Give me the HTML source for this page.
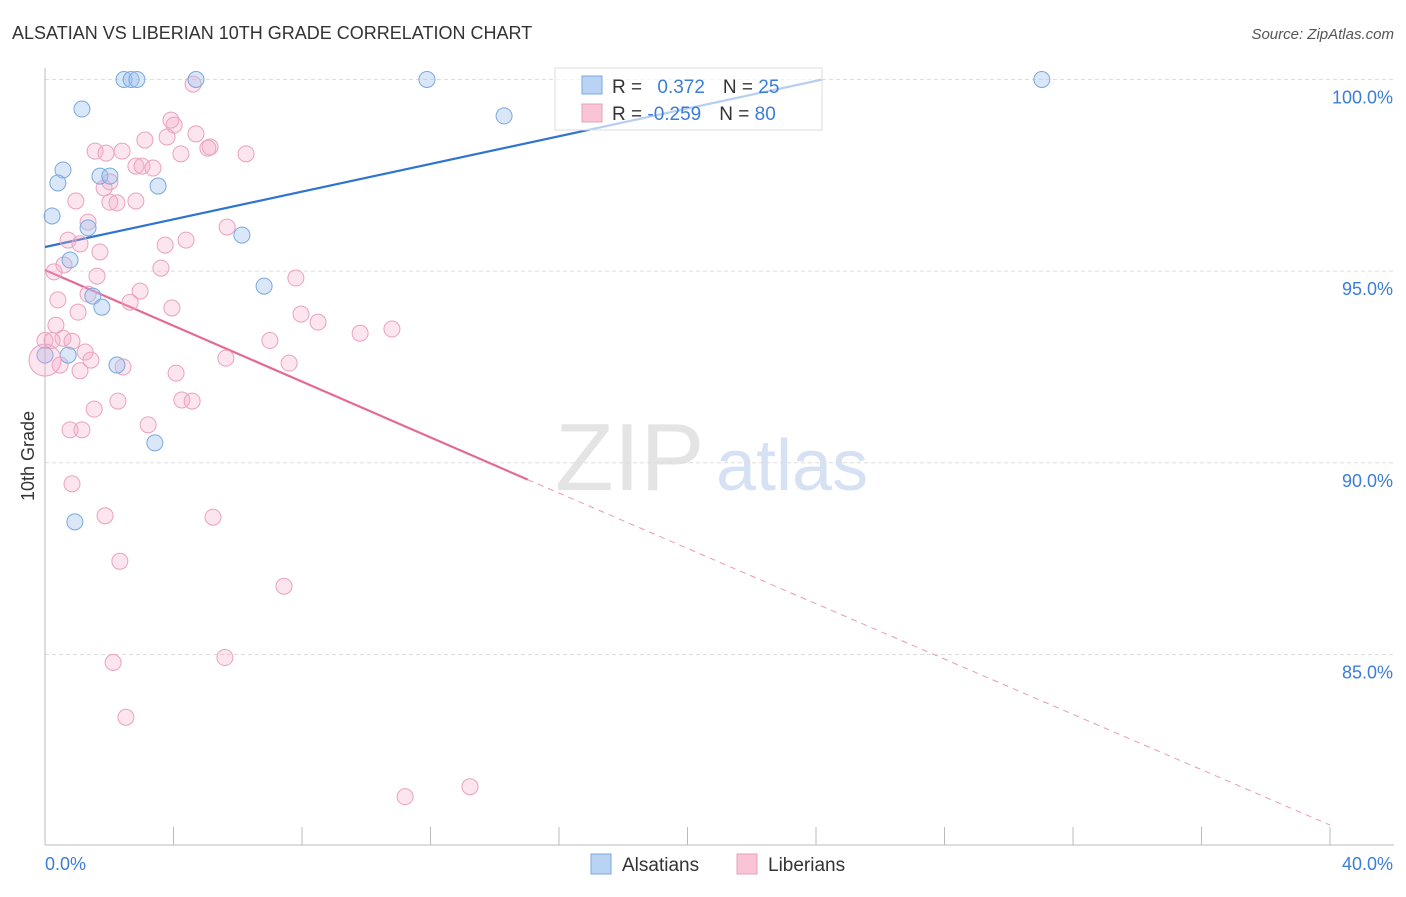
<!DOCTYPE html>
<html><head><meta charset="utf-8"><style>
body{margin:0;background:#fff;font-family:"Liberation Sans",sans-serif;}
svg text{font-family:"Liberation Sans",sans-serif;}
</style></head><body>
<svg id="chart" width="1406" height="892">
<text x="12" y="39" font-size="18" fill="#333">ALSATIAN VS LIBERIAN 10TH GRADE CORRELATION CHART</text>
<text x="1394" y="39" font-size="15" fill="#555" font-style="italic" text-anchor="end">Source: ZipAtlas.com</text>
<text x="34" y="456" font-size="18" fill="#333" transform="rotate(-90 34 456)" text-anchor="middle">10th Grade</text>
<text x="555" y="490" font-size="96" fill="#e4e4e4" font-family="Liberation Serif">ZIP</text>
<text x="716" y="490" font-size="72" fill="#d6e2f3">atlas</text>
<g id="grid"></g><g id="axes"></g><g id="trends"></g><g id="pts"></g>
<g>
<rect x="555" y="68" width="267" height="62" fill="#fff" fill-opacity="0.65" stroke="#ddd"/>
<rect x="582" y="76" width="20" height="18" fill="#b9d3f5" stroke="#7aa8e0"/>
<rect x="582" y="104" width="20" height="18" fill="#f9c5d6" stroke="#e8a0bb"/>
<text x="612" y="93" font-size="19" fill="#333">R = <tspan fill="#3b7dd8" dx="10">0.372</tspan><tspan dx="18">N = </tspan><tspan fill="#3b7dd8">25</tspan></text>
<text x="612" y="120" font-size="19" fill="#333">R = <tspan fill="#3b7dd8">-0.259</tspan><tspan dx="18">N = </tspan><tspan fill="#3b7dd8">80</tspan></text>
</g>
<g>
<rect x="591" y="854" width="20" height="20" fill="#b9d3f5" stroke="#7aa8e0"/>
<text x="622" y="871" font-size="19" fill="#333">Alsatians</text>
<rect x="737" y="854" width="20" height="20" fill="#f9c5d6" stroke="#e8a0bb"/>
<text x="768" y="871" font-size="19" fill="#333">Liberians</text>
</g>
<text x="45" y="870" font-size="18" fill="#3b7dd8">0.0%</text>
<text x="1393" y="870" font-size="18" fill="#3b7dd8" text-anchor="end">40.0%</text>
</svg>
<script>
const yTicks=[100,95,90,85];
const yTickLabels=["100.0%","95.0%","90.0%","85.0%"];
const blueX=[2.46,2.68,2.86,4.70,11.89,31.03,1.15,14.29,0.56,0.40,1.71,2.02,3.52,0.22,1.34,6.13,0.78,6.82,1.49,1.77,0.72,2.24,3.42,0.93,0];
const blueY=[100,100,100,100,100,100,99.23,99.05,97.64,97.30,97.48,97.48,97.22,96.44,96.13,95.94,95.29,94.61,94.35,94.06,92.81,92.55,90.52,88.46,92.81];
const pinkX=[4.61,3.92,4.02,4.70,3.11,3.80,5.14,5.07,1.56,2.40,1.90,4.23,6.26,2.83,3.02,3.36,2.02,1.84,0.96,2.02,2.24,2.83,1.34,5.67,0.72,4.39,3.74,1.09,1.71,0.59,3.61,0.28,1.62,7.81,2.96,1.34,0.40,2.65,3.95,1.03,7.97,8.50,9.81,10.80,0.34,7.00,0,0.56,0.84,0.22,1.25,5.63,1.43,7.60,2.43,0.47,1.09,4.08,4.26,4.58,2.27,1.53,3.21,0.78,1.15,0.84,1.87,5.23,2.33,7.44,2.12,5.60,2.52,11.21,13.23];
const pinkY=[99.88,98.94,98.81,98.58,98.42,98.50,98.24,98.21,98.13,98.13,98.08,98.06,98.06,97.74,97.74,97.69,97.33,97.17,96.83,96.80,96.78,96.83,96.28,96.15,95.81,95.81,95.68,95.71,95.50,95.16,95.08,94.98,94.87,94.82,94.48,94.40,94.25,94.19,94.04,93.93,93.88,93.67,93.38,93.49,93.59,93.19,93.19,93.25,93.17,93.19,92.89,92.73,92.68,92.60,92.50,92.55,92.40,92.34,91.64,91.61,91.61,91.40,90.99,90.86,90.86,89.45,88.62,88.58,87.43,86.78,84.79,84.92,83.36,81.29,81.55];
const blueTrend=[[0,95.63],[24.2,100]];
const pinkTrend=[[0,95.03],[15.03,89.56],[40,80.55]];
const NS="http://www.w3.org/2000/svg";
const X=v=>45+v*32.125, Y=v=>79.5+(100-v)*38.33;
function mk(t,a,p){const e=document.createElementNS(NS,t);for(const k in a)e.setAttribute(k,a[k]);p.appendChild(e);return e;}
const grid=document.getElementById('grid'),axes=document.getElementById('axes'),tr=document.getElementById('trends'),pts=document.getElementById('pts');
yTicks.forEach((t,i)=>{
 const l=mk('line',{x1:45,x2:1394,y1:Y(t),y2:Y(t),stroke:'#ddd','stroke-dasharray':'4,3'},grid);
 
 
 const tx=mk('text',{x:1393,y:Y(t)+24,'font-size':18,fill:'#3b7dd8','text-anchor':'end'},grid);
 tx.textContent=yTickLabels[i];
 
 
});
const ya=mk('line',{x1:45,x2:45,y1:68,y2:845,stroke:'#bbb'},axes);


const xa=mk('line',{x1:45,x2:1394,y1:845,y2:845,stroke:'#bbb'},axes);


for(let i=0;i<=10;i++){
 const t=mk('line',{x1:X(i*4),x2:X(i*4),y1:827,y2:845,stroke:'#bbb'},axes);
 
 
}
function seg(p1,p2,col,w,dash,name){
 const l=mk('line',{x1:X(p1[0]),y1:Y(p1[1]),x2:X(p2[0]),y2:Y(p2[1]),stroke:col,'stroke-width':w},tr);
 if(dash)l.setAttribute('stroke-dasharray',dash);
 
 
}
seg(blueTrend[0],blueTrend[1],'#2f74d0',2.2,null,'alsatians-trend-line');
seg(pinkTrend[0],pinkTrend[1],'#e46a96',2.2,null,'liberians-trend-line');
seg(pinkTrend[1],pinkTrend[2],'#e89ab6',1,'6,5','liberians-trend-extension');
pinkX.forEach((x,i)=>{
 const c=mk('circle',{cx:X(x),cy:Y(pinkY[i]),r:8,fill:'rgba(246,170,198,0.3)',stroke:'#eaa2bd','stroke-width':1},pts);
 
 
});
blueX.forEach((x,i)=>{
 const c=mk('circle',{cx:X(x),cy:Y(blueY[i]),r:8,fill:'rgba(160,196,240,0.4)',stroke:'#7aa8e0','stroke-width':1},pts);
 
 
});
const big=mk('circle',{cx:X(0),cy:Y(92.68),r:16,fill:'rgba(246,170,198,0.3)',stroke:'#eaa2bd'},pts);


</script>
</body></html>
